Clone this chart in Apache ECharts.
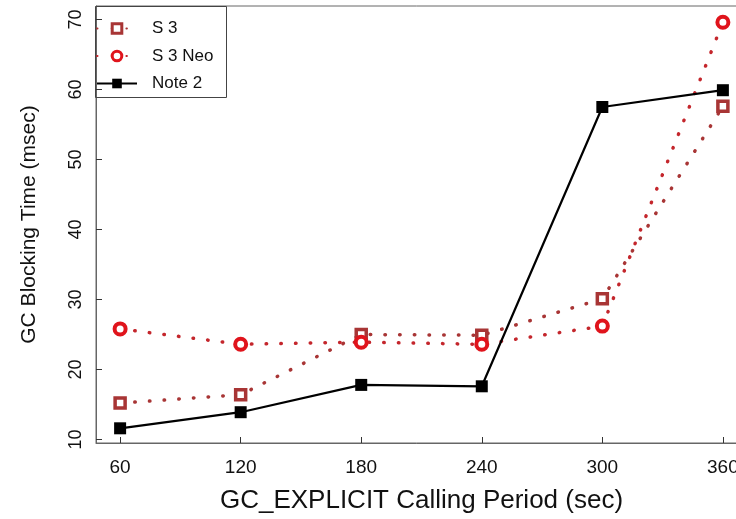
<!DOCTYPE html>
<html>
<head>
<meta charset="utf-8">
<script src="https://cdn.jsdelivr.net/npm/echarts@6/dist/echarts.min.js"></script>
<style>
html,body{margin:0;padding:0;background:#fff;}
#chart{width:736px;height:519px;}
</style>
</head>
<body>
<div id="chart"></div>
<script>
const periods = [60, 120, 180, 240, 300, 360];
const s3 = [15.2, 16.4, 25.0, 24.9, 30.1, 57.6];
const s3neo = [25.8, 23.6, 23.9, 23.6, 26.2, 69.6];
const note2 = [11.6, 13.9, 17.8, 17.6, 57.5, 59.9];
const xTicks = [60, 120, 180, 240, 300, 360];
const yTicks = [10, 20, 30, 40, 50, 60, 70];
const seriesNames = ['S 3', 'S 3 Neo', 'Note 2'];
const xTitle = 'GC_EXPLICIT Calling Period (sec)';
const yTitle = 'GC Blocking Time (msec)';

function pairs(vals) { return periods.map((p, i) => [p, vals[i]]); }

const S3_COLOR = '#a83535';
const NEO_COLOR = '#e0141c';
const NEO_LINE = '#c4262c';

const chart = echarts.init(document.getElementById('chart'), null, {renderer: 'canvas'});
const font = 'Liberation Sans, Arial, Helvetica, sans-serif';
chart.setOption({
  animation: false,
  backgroundColor: '#fff',
  grid: {left: 96, top: 6, width: 651, height: 437, outerBoundsMode: 'none', containLabel: false,
         show: true, borderColor: '#666', borderWidth: 1, backgroundColor: 'transparent'},
  xAxis: {
    type: 'value', min: 48, max: 372,
    name: xTitle, nameLocation: 'middle', nameGap: 45,
    nameTextStyle: {fontFamily: font, fontSize: 26, color: '#111'},
    axisLine: {show: true, lineStyle: {color: '#666', width: 1}},
    axisTick: {show: true, inside: true, length: 6, customValues: xTicks, lineStyle: {color: '#333'}},
    axisLabel: {customValues: xTicks, margin: 15, fontFamily: font, fontSize: 19, color: '#111'},
    splitLine: {show: false}
  },
  yAxis: {
    type: 'value', min: 9.5, max: 71.93,
    name: yTitle, nameLocation: 'middle', nameGap: 56, nameRotate: 90,
    nameTextStyle: {fontFamily: font, fontSize: 21, color: '#111'},
    axisLine: {show: true, lineStyle: {color: '#666', width: 1}},
    axisTick: {show: true, inside: true, length: 6, customValues: yTicks, lineStyle: {color: '#333'}},
    axisLabel: {customValues: yTicks, rotate: 90, margin: 11, fontFamily: font, fontSize: 18, color: '#111'},
    splitLine: {show: false}
  },
  legend: {
    show: true, orient: 'vertical', left: 96, top: 20, padding: 0,
    itemWidth: 40, itemHeight: 12, itemGap: 10.5,
    textStyle: {fontFamily: font, fontSize: 17, color: '#111', padding: [0, 0, 0, 10]},
    data: [
      {name: seriesNames[0], itemStyle: {color: '#fff', borderColor: S3_COLOR, borderWidth: 3}},
      {name: seriesNames[1], itemStyle: {color: '#fff', borderColor: NEO_COLOR, borderWidth: 3}},
      {name: seriesNames[2], itemStyle: {color: '#000'}}
    ]
  },
  graphic: [{
    type: 'rect', shape: {x: 95.5, y: 6.5, width: 131, height: 91},
    style: {fill: 'none', stroke: '#444', lineWidth: 1}, z: 100
  }],
  series: [
    {
      name: seriesNames[0], type: 'line', data: pairs(s3),
      symbol: 'rect', symbolSize: 10,
      itemStyle: {color: '#fff', borderColor: S3_COLOR, borderWidth: 3.5},
      lineStyle: {color: S3_COLOR, width: 3.5, type: [0.5, 14.2], cap: 'round'},
      z: 2
    },
    {
      name: seriesNames[1], type: 'line', data: pairs(s3neo),
      symbol: 'circle', symbolSize: 11,
      itemStyle: {color: '#fff', borderColor: NEO_COLOR, borderWidth: 4},
      lineStyle: {color: NEO_LINE, width: 3.5, type: [0.5, 14.2], cap: 'round'},
      z: 3
    },
    {
      name: seriesNames[2], type: 'line', data: pairs(note2),
      symbol: 'rect', symbolSize: 12,
      itemStyle: {color: '#000', borderColor: '#000', borderWidth: 0},
      lineStyle: {color: '#000', width: 2.2, type: 'solid'},
      z: 4
    }
  ]
});
</script>
</body>
</html>
